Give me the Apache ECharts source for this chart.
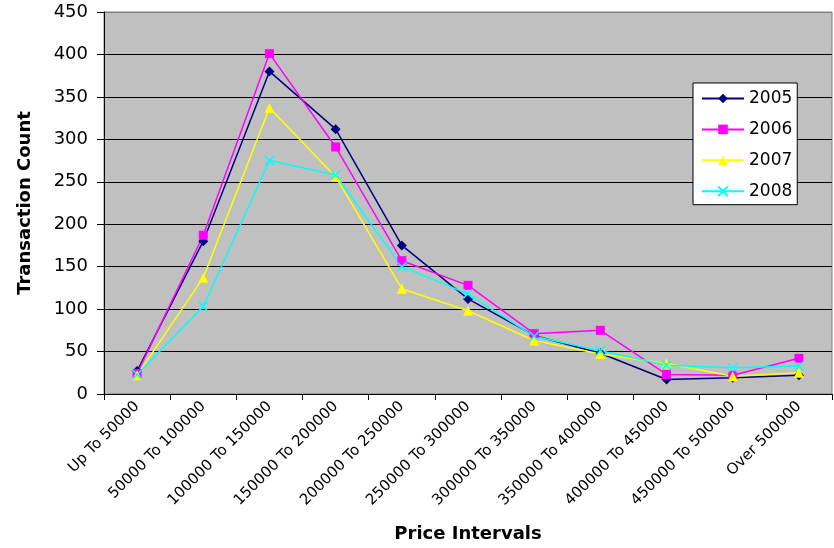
<!DOCTYPE html>
<html>
<head>
<meta charset="utf-8">
<script src="https://cdn.jsdelivr.net/npm/echarts@6/dist/echarts.min.js"></script>
<style>html,body{margin:0;padding:0;background:#fff;}#c{width:834px;height:548px;}</style>
</head>
<body>
<div id="c"></div>
<script>
var categories = ['Up To 50000','50000 To 100000','100000 To 150000','150000 To 200000','200000 To 250000','250000 To 300000','300000 To 350000','350000 To 400000','400000 To 450000','450000 To 500000','Over 500000'];
var seriesNames = ['2005','2006','2007','2008'];
var s2005 = [27, 180, 380, 312, 175, 112, 69, 48, 17, 19, 22];
var s2006 = [24, 187, 401, 291, 157, 128, 71, 75, 23, 22, 42];
var s2007 = [22, 137, 337, 256, 124, 98, 63, 47, 36, 21, 25];
var s2008 = [23, 103, 275, 258, 150, 118, 68, 51, 34, 31, 33];
var yTicks = [0, 50, 100, 150, 200, 250, 300, 350, 400, 450];

var F = 'DejaVu Sans';
var chart = echarts.init(document.getElementById('c'), null, {renderer: 'canvas'});
function mk(name, data, color, symbol, size) {
  return {
    name: name, type: 'line', data: data,
    symbol: symbol, symbolSize: size, showSymbol: true,
    lineStyle: {color: color, width: 1.5},
    itemStyle: {color: color, borderColor: color, borderWidth: symbol.indexOf('path') === 0 ? 1.5 : 0},
    emphasis: {disabled: true},
    animation: false
  };
}
var xPath = 'path://M0,0L10,10M10,0L0,10';
var splitColors = yTicks.map(function (v, i) { return i === yTicks.length - 1 ? '#808080' : '#000000'; });
chart.setOption({
  animation: false,
  backgroundColor: '#ffffff',
  grid: {left: 104, right: 2, top: 12, bottom: 154, show: true, backgroundColor: '#C0C0C0', borderColor: '#808080', borderWidth: 1},
  legend: {
    orient: 'vertical', left: 693, top: 83,
    backgroundColor: '#ffffff', borderColor: '#000000', borderWidth: 1,
    padding: [7, 5, 5, 8], itemWidth: 42, itemHeight: 12, itemGap: 13.9,
    textStyle: {fontFamily: F, fontSize: 17, color: '#000'},
    data: seriesNames
  },
  xAxis: {
    type: 'category', data: categories, boundaryGap: true,
    name: 'Price Intervals', nameLocation: 'middle', nameGap: 131,
    nameTextStyle: {fontFamily: F, fontSize: 18, fontWeight: 'bold', color: '#000', verticalAlign: 'top'},
    axisLine: {lineStyle: {color: '#000', width: 1}},
    axisTick: {show: true, length: 6, alignWithLabel: false, lineStyle: {color: '#000'}},
    axisLabel: {rotate: 45, interval: 0, margin: 10, fontFamily: F, fontSize: 15, color: '#000'},
    splitLine: {show: false}
  },
  yAxis: {
    type: 'value', min: 0, max: 450, interval: 50,
    name: 'Transaction Count', nameLocation: 'middle', nameGap: 70, nameRotate: 90,
    nameTextStyle: {fontFamily: F, fontSize: 18, fontWeight: 'bold', color: '#000'},
    axisLine: {show: true, lineStyle: {color: '#000', width: 1}},
    axisTick: {show: true, length: 7, lineStyle: {color: '#000'}},
    axisLabel: {margin: 16, fontFamily: F, fontSize: 18, color: '#000'},
    splitLine: {show: true, lineStyle: {color: splitColors, width: 1}}
  },
  series: [
    mk(seriesNames[0], s2005, '#000080', 'diamond', 10),
    mk(seriesNames[1], s2006, '#FF00FF', 'rect', 9),
    mk(seriesNames[2], s2007, '#FFFF00', 'triangle', 10),
    mk(seriesNames[3], s2008, '#00FFFF', xPath, 9)
  ]
});
</script>
</body>
</html>
